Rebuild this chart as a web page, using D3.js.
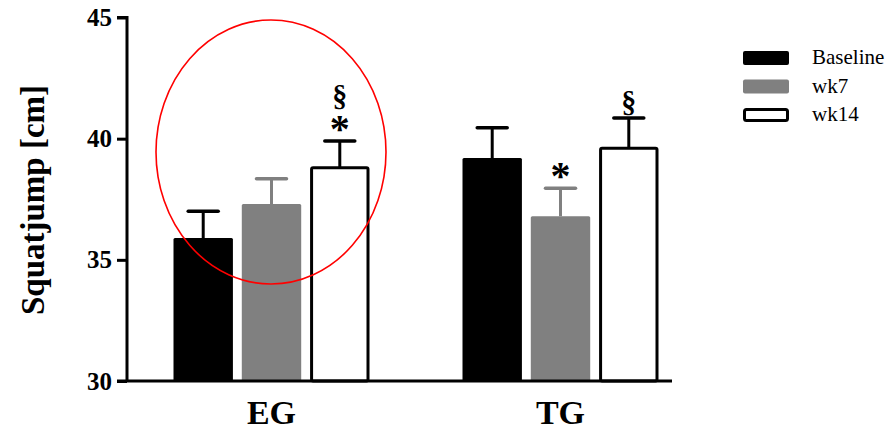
<!DOCTYPE html>
<html>
<head>
<meta charset="utf-8">
<script src="https://cdn.jsdelivr.net/npm/d3@7"></script>
<style>
  html, body { margin: 0; padding: 0; background: #fff; }
  svg { display: block; font-family: "Liberation Serif", "Times New Roman", serif; }
</style>
</head>
<body>
<svg id="chart" width="892" height="432"></svg>
<script>
// Squat jump height per group and time point (mean, SD)
const groups = ["EG", "TG"];
const series = ["Baseline", "wk7", "wk14"];
const baselineMean = [35.9, 39.2];
const wk7Mean = [37.3, 36.8];
const wk14Mean = [38.8, 39.6];
const baselineSD = [1.1, 1.25];
const wk7SD = [1.05, 1.15];
const wk14SD = [1.1, 1.25];
const yTicks = [30, 35, 40, 45];
// significance marks: group, series, symbol, stack level above the error cap
const marks = [
  { group: "EG", series: "wk14", symbol: "*", level: 0 },
  { group: "EG", series: "wk14", symbol: "§", level: 1 },
  { group: "TG", series: "wk7", symbol: "*", level: 0 },
  { group: "TG", series: "wk14", symbol: "§", level: 0 }
];

const means = { Baseline: baselineMean, wk7: wk7Mean, wk14: wk14Mean };
const sds = { Baseline: baselineSD, wk7: wk7SD, wk14: wk14SD };
const fills = { Baseline: "#000000", wk7: "#808080", wk14: "#ffffff" };
const strokes = { Baseline: "#000000", wk7: "#808080", wk14: "#000000" };

const rows = [];
groups.forEach((g, gi) => series.forEach(s => rows.push({ group: g, series: s, mean: means[s][gi], sd: sds[s][gi] })));

const svg = d3.select("#chart");

const y = d3.scaleLinear().domain([30, 45]).range([381, 17.5]);
const x0 = d3.scaleBand().domain(groups).range([127, 705]).padding(0);
const x1 = d3.scaleBand().domain(series).range([-98, 98]).paddingInner(0.13);
const barX = d => x0(d.group) + x0.bandwidth() / 2 + x1(d.series);
const barCx = d => barX(d) + x1.bandwidth() / 2;

// error bars (upper only)
const err = svg.append("g");
rows.forEach(d => {
  const cx = barCx(d);
  err.append("line")
    .attr("x1", cx).attr("x2", cx)
    .attr("y1", y(d.mean)).attr("y2", y(d.mean + d.sd))
    .attr("stroke", strokes[d.series]).attr("stroke-width", 3);
  err.append("line")
    .attr("x1", cx - 15).attr("x2", cx + 15)
    .attr("y1", y(d.mean + d.sd)).attr("y2", y(d.mean + d.sd))
    .attr("stroke", strokes[d.series]).attr("stroke-width", 3.5)
    .attr("stroke-linecap", "round");
});

// bars
svg.append("g").selectAll("rect").data(rows).join("rect")
  .attr("x", d => d.series === "wk14" ? barX(d) + 1.5 : barX(d))
  .attr("y", d => y(d.mean))
  .attr("width", d => d.series === "wk14" ? x1.bandwidth() - 3 : x1.bandwidth())
  .attr("height", d => y(30) - y(d.mean))
  .attr("rx", 1.5)
  .attr("fill", d => fills[d.series])
  .attr("stroke", d => d.series === "wk14" ? "#000" : "none")
  .attr("stroke-width", 3);

// significance symbols: one text per bar, stacked symbols as tspans
const markBars = rows.filter(r => marks.some(m => m.group === r.group && m.series === r.series));
svg.append("g").selectAll("text").data(markBars).join("text")
  .attr("text-anchor", "middle")
  .attr("font-weight", "bold")
  .each(function (r) {
    const top = y(r.mean + r.sd);
    const cx = barCx(r);
    marks.filter(m => m.group === r.group && m.series === r.series).forEach(m => {
      d3.select(this).append("tspan")
        .attr("x", cx)
        .attr("y", (m.symbol === "*" ? top + 1 : top - 6) - m.level * 29)
        .attr("font-size", m.symbol === "*" ? 40 : 30)
        .text(m.symbol);
    });
  });

// y axis
const yAxis = svg.append("g")
  .attr("transform", "translate(127,0)")
  .call(d3.axisLeft(y).tickValues(yTicks).tickSize(10).tickPadding(5).tickFormat(d3.format("d")));
yAxis.select(".domain").attr("stroke-width", 3).attr("d", `M-10,${y(45)}H0V${y(30)}`);
yAxis.selectAll(".tick line").attr("stroke-width", 3);
yAxis.selectAll(".tick text")
  .attr("font-family", "Liberation Serif, Times New Roman, serif")
  .attr("font-size", 25).attr("font-weight", "bold").attr("fill", "#000");

// x axis
svg.append("line")
  .attr("x1", 117).attr("x2", 672)
  .attr("y1", y(30)).attr("y2", y(30))
  .attr("stroke", "#000").attr("stroke-width", 3);
svg.append("g").selectAll("text").data(groups).join("text")
  .attr("x", g => x0(g) + x0.bandwidth() / 2)
  .attr("y", 424)
  .attr("text-anchor", "middle")
  .attr("font-size", 34)
  .attr("font-weight", "bold")
  .text(g => g);

// y axis title
svg.append("text")
  .attr("transform", "translate(44,200) rotate(-90)")
  .attr("text-anchor", "middle")
  .attr("font-size", 33)
  .attr("font-weight", "bold")
  .text("Squatjump [cm]");

// legend
const legend = svg.append("g").attr("transform", "translate(743,51)");
series.forEach((s, i) => {
  const gy = i * 28.5;
  legend.append("rect")
    .attr("x", s === "wk14" ? 1.5 : 0).attr("y", gy + (s === "wk14" ? 1.5 : 0))
    .attr("width", s === "wk14" ? 43 : 46).attr("height", s === "wk14" ? 11 : 14)
    .attr("rx", 2)
    .attr("fill", fills[s])
    .attr("stroke", s === "wk14" ? "#000" : "none")
    .attr("stroke-width", 3);
  legend.append("text")
    .attr("x", 69).attr("y", gy + 13)
    .attr("font-size", 21)
    .text(s);
});

// highlight ellipse around the EG group, drawn over the bars
svg.append("ellipse")
  .attr("cx", x0("EG") + x0.bandwidth() / 2 - 0.5)
  .attr("cy", 152)
  .attr("rx", 115)
  .attr("ry", 132)
  .attr("fill", "none")
  .attr("stroke", "#ff0000")
  .attr("stroke-width", 1.6);
</script>
</body>
</html>
